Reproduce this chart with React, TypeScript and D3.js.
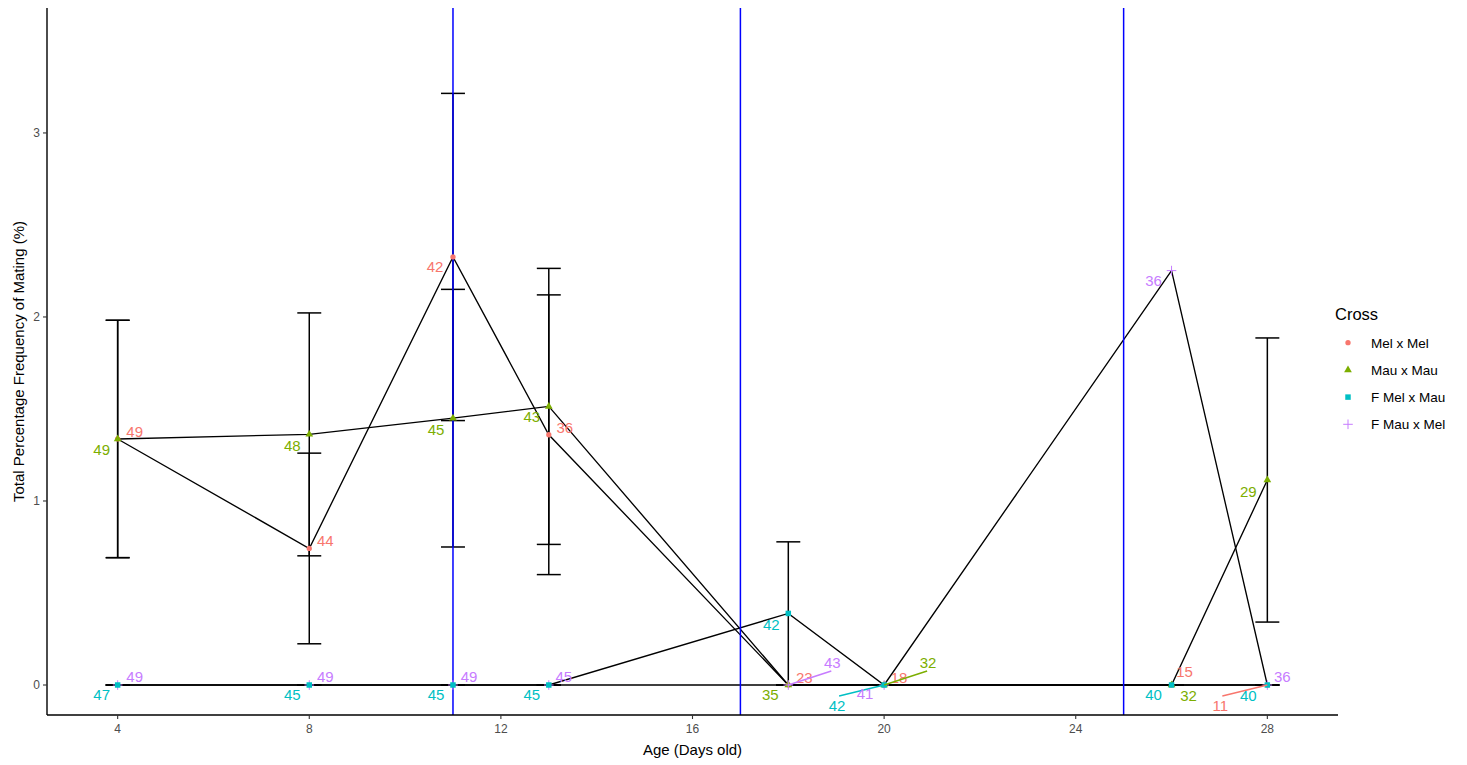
import React from "react";
import * as d3 from "d3";

// Sampling ages (days old)
const days = [4, 8, 11, 13, 18, 20, 26, 28];

// Cross names, in legend order
const crosses = ["Mel x Mel", "Mau x Mau", "F Mel x Mau", "F Mau x Mel"];

// Mean total percentage frequency of mating per cross
const melMelMean = [1.337, 0.742, 2.326, 1.36, 0, 0, 0, 0];
const mauMauMean = [1.337, 1.362, 1.45, 1.514, 0, 0, 0, 1.114];
const fMelMauMean = [0, 0, 0, 0, 0.389, 0, 0, 0];
const fMauMelMean = [0, 0, 0, 0, 0, 0, 2.252, 0];

// Standard errors (null where no error bar is drawn)
const melMelSE: (number | null)[] = [0.645, 0.518, 0.889, 0.76, 0, 0, 0, 0];
const mauMauSE: (number | null)[] = [0.645, 0.66, 0.7, 0.75, 0, 0, 0, 0.772];
const fMelMauSE: (number | null)[] = [0, 0, 0, 0, 0.389, 0, 0, 0];
const fMauMelSE: (number | null)[] = [0, 0, 0, 0, 0, 0, null, 0];

// Sample sizes shown next to each point
const melMelN = [49, 44, 42, 36, 23, 18, 15, 11];
const mauMauN = [49, 48, 45, 43, 35, 32, 32, 29];
const fMelMauN = [47, 45, 45, 45, 42, 42, 40, 40];
const fMauMelN = [49, 49, 49, 45, 43, 41, 36, 36];

// Axis ticks and reference ages
const xTicks = [4, 8, 12, 16, 20, 24, 28];
const yTicks = [0, 1, 2, 3];
const referenceDays = [11, 17, 25];

// ---- layout / styling ----
const W = 1467;
const H = 765;
const M = { left: 47, right: 1338, top: 8, bottom: 715 };
const COLORS = ["#F8766D", "#7CAE00", "#00BFC4", "#C77CFF"];
const FONT = "'Liberation Sans', Arial, Helvetica, sans-serif";

// Label offsets in pixels from each point (repelled text placement)
const labelOffsets: [number, number][][] = [
  [[17, -7], [16, -8], [-18, 10], [16, -7], [16, -7], [15, -7], [13, -13], [-47, 21]],
  [[-16, 11], [-17, 11], [-17, 11], [-17, 10], [-18, 10], [44, -22], [17, 11], [-19, 12]],
  [[-16, 10], [-17, 10], [-17, 10], [-17, 10], [-17, 11], [-47, 21], [-18, 10], [-19, 11]],
  [[17, -8], [16, -8], [16, -8], [15, -8], [44, -22], [-19, 9], [-18, 10], [15, -8]],
];

const series = crosses.map((name, i) => ({
  name,
  shape: i,
  color: COLORS[i],
  mean: [melMelMean, mauMauMean, fMelMauMean, fMauMelMean][i],
  se: [melMelSE, mauMauSE, fMelMauSE, fMauMelSE][i],
  n: [melMelN, mauMauN, fMelMauN, fMauMelN][i],
  offsets: labelOffsets[i],
}));

// point layers: the square markers sit above the plus markers
const pointOrder = [series[0], series[1], series[3], series[2]];

const x = d3.scaleLinear().domain([2.525, 29.475]).range([M.left, M.right]);
const y = d3.scaleLinear().domain([-0.163, 3.679]).range([M.bottom, M.top]);
const capHalf = 0.25; // error bar width in days (each side)

function Marker({ shape, cx, cy, color }: { shape: number; cx: number; cy: number; color: string }) {
  if (shape === 3) {
    const a = 4.8;
    return (
      <path
        d={`M${cx - a},${cy}H${cx + a}M${cx},${cy - a}V${cy + a}`}
        stroke={color}
        strokeWidth={1}
        fill="none"
      />
    );
  }
  const types = [d3.symbolCircle, d3.symbolTriangle, d3.symbolSquare];
  const sizes = [22, 26, 30];
  const p = d3.symbol().type(types[shape]).size(sizes[shape])() as string;
  return <path d={p} transform={`translate(${cx},${cy})`} fill={color} />;
}

export default function App() {
  const line = d3
    .line<number>()
    .x((_, i) => x(days[i]))
    .y((v) => y(v));

  return (
    <div style={{ position: "fixed", left: 0, top: 0, background: "#fff" }}>
      <svg width={W} height={H} style={{ display: "block", fontFamily: FONT }}>
        <rect width={W} height={H} fill="#fff" />

        {/* connecting lines */}
        {series.map((s) => (
          <path key={"l" + s.name} d={line(s.mean) as string} fill="none" stroke="#000" strokeWidth={1.35} />
        ))}

        {/* error bars */}
        {series.map((s) =>
          s.mean.map((m, i) => {
            const e = s.se[i];
            if (e === null) return null;
            const x0 = x(days[i] - capHalf);
            const x1 = x(days[i] + capHalf);
            const xc = x(days[i]);
            const yl = y(m - e);
            const yh = y(m + e);
            return (
              <g key={"e" + s.name + i} stroke="#000" strokeWidth={1.5} fill="none">
                <line x1={xc} x2={xc} y1={yl} y2={yh} />
                <line x1={x0} x2={x1} y1={yl} y2={yl} />
                <line x1={x0} x2={x1} y1={yh} y2={yh} />
              </g>
            );
          })
        )}

        {/* reference ages */}
        {referenceDays.map((d) => (
          <line key={"v" + d} x1={x(d)} x2={x(d)} y1={M.top} y2={M.bottom} stroke="#0000FF" strokeWidth={1.5} />
        ))}

        {/* points */}
        {pointOrder.map((s) =>
          s.mean.map((m, i) => (
            <Marker key={"p" + s.name + i} shape={s.shape} cx={x(days[i])} cy={y(m)} color={s.color} />
          ))
        )}

        {/* sample size labels with leader segments */}
        {series.map((s) =>
          s.mean.map((m, i) => {
            const px = x(days[i]);
            const py = y(m);
            const [dx, dy] = s.offsets[i];
            const lx = px + dx;
            const ly = py + dy;
            const far = Math.abs(dx) > 30;
            return (
              <g key={"t" + s.name + i}>
                {far && (
                  <line
                    x1={px}
                    y1={py}
                    x2={lx + (dx > 0 ? -1 : 2)}
                    y2={ly + (dy > 0 ? -10 : 8)}
                    stroke={s.color}
                    strokeWidth={1.4}
                  />
                )}
                <text
                  x={lx}
                  y={ly}
                  dy="0.36em"
                  textAnchor="middle"
                  fontSize={15}
                  fill={s.color}
                >
                  {s.n[i]}
                </text>
              </g>
            );
          })
        )}

        {/* axes */}
        <line x1={M.left} x2={M.left} y1={M.top} y2={M.bottom} stroke="#000" strokeWidth={1.4} />
        <line x1={M.left} x2={M.right} y1={M.bottom} y2={M.bottom} stroke="#000" strokeWidth={1.4} />
        {yTicks.map((t) => (
          <g key={"yt" + t}>
            <line x1={M.left - 4} x2={M.left} y1={y(t)} y2={y(t)} stroke="#333" strokeWidth={1.1} />
            <text x={M.left - 7} y={y(t)} dy="0.36em" textAnchor="end" fontSize={12} fill="#4D4D4D">
              {t}
            </text>
          </g>
        ))}
        {xTicks.map((t) => (
          <g key={"xt" + t}>
            <line x1={x(t)} x2={x(t)} y1={M.bottom} y2={M.bottom + 4} stroke="#333" strokeWidth={1.1} />
            <text x={x(t)} y={M.bottom + 14} dy="0.36em" textAnchor="middle" fontSize={12} fill="#4D4D4D">
              {t}
            </text>
          </g>
        ))}
        <text
          x={(M.left + M.right) / 2}
          y={750}
          dy="0.36em"
          textAnchor="middle"
          fontSize={15}
          fill="#000"
        >
          Age (Days old)
        </text>
        <text
          transform={`translate(19,${(M.top + M.bottom) / 2}) rotate(-90)`}
          dy="0.36em"
          textAnchor="middle"
          fontSize={15}
          fill="#000"
        >
          Total Percentage Frequency of Mating (%)
        </text>

        {/* legend */}
        <text x={1335} y={314} dy="0.36em" fontSize={16.5} fill="#000">
          Cross
        </text>
        {series.map((s, i) => {
          const ly = 342.7 + i * 27.2;
          return (
            <g key={"lg" + s.name}>
              <Marker shape={s.shape} cx={1348} cy={ly} color={s.color} />
              <text x={1371} y={ly} dy="0.36em" fontSize={13.5} fill="#000">
                {s.name}
              </text>
            </g>
          );
        })}
      </svg>
    </div>
  );
}
